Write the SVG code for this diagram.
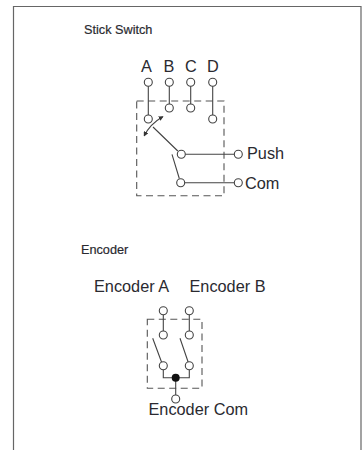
<svg xmlns="http://www.w3.org/2000/svg" width="363" height="450" viewBox="0 0 363 450">
<style>
text{font-family:"Liberation Sans",Arial,sans-serif;fill:#2a2a30}
.l{font-size:16.300px}
.t{font-size:12.700px;stroke:#2a2a30;stroke-width:0.200}
.w{fill:none;stroke:#444;stroke-width:1.100}
.c{fill:#fff;stroke:#444;stroke-width:1.100}
.d{fill:none;stroke:#555;stroke-width:1.100;stroke-dasharray:7 4.500}
</style>
<defs>
<marker id="ah" markerUnits="userSpaceOnUse" markerWidth="5" markerHeight="5" refX="4" refY="2.500" orient="auto-start-reverse"><path d="M0 0L5 2.500L0 5Z" fill="#333"/></marker>
</defs>
<rect width="363" height="450" fill="#fff"/>
<path id="frame" d="M13.500 450V6.500H361V450" fill="none" stroke="#666" stroke-width="1.200"/>
<g id="connectors">
<rect class="d" x="136.700" y="101" width="87.300" height="94.700"/>
<path class="w" d="M148.300 86V115M169.300 86V104M190.700 86V104M212.700 86V115"/>
<path class="w" d="M177.800 151L153 127M179.300 178.500L172 154.300"/>
<path class="w" d="M185 154.300H234.600M184.500 182.700H234.600"/>
<path class="w" d="M144.300 135.700Q150 124 162.700 116.700" marker-start="url(#ah)" marker-end="url(#ah)"/>
<rect class="d" x="147.300" y="319.300" width="54.700" height="69"/>
<path class="w" d="M163.300 314.400V331.300M189.300 314.400V331.300"/>
<path class="w" d="M152.700 338.300L161.700 362.500M180 338.300L188.300 362.500"/>
<path class="w" d="M163.300 369.400V377.700H189.300V369.400M175.700 377.700V395.300"/>
</g>
<g id="stick-switch">
<text class="t" x="84" y="33.500">Stick Switch</text>
<text class="l" x="141" y="72">A</text>
<text class="l" x="163.500" y="72">B</text>
<text class="l" x="185" y="72">C</text>
<text class="l" x="207" y="72">D</text>
<text class="l" x="247" y="158.500">Push</text>
<text class="l" x="245" y="188.500">Com</text>
</g>
<g id="stick-terminals">
<circle class="c" cx="148.300" cy="82.300" r="4"/>
<circle class="c" cx="169.300" cy="82.300" r="4"/>
<circle class="c" cx="190.700" cy="82.300" r="4"/>
<circle class="c" cx="212.700" cy="82.300" r="4"/>
<circle class="c" cx="148.300" cy="119" r="4"/>
<circle class="c" cx="169.300" cy="108" r="4"/>
<circle class="c" cx="190.700" cy="108" r="4"/>
<circle class="c" cx="212.700" cy="119" r="4"/>
<circle class="c" cx="181.300" cy="154.300" r="4"/>
<circle class="c" cx="238.300" cy="154.300" r="4"/>
<circle class="c" cx="180.700" cy="182.700" r="4"/>
<circle class="c" cx="238.300" cy="182.700" r="4"/>
</g>
<g id="encoder">
<text class="t" x="81" y="253.500">Encoder</text>
<text class="l" x="94" y="292">Encoder A</text>
<text class="l" x="189.500" y="292">Encoder B</text>
<text class="l" x="148.500" y="414.500">Encoder Com</text>
</g>
<g id="encoder-terminals">
<circle class="c" cx="163.300" cy="310.700" r="4"/>
<circle class="c" cx="189.300" cy="310.700" r="4"/>
<circle class="c" cx="163.300" cy="335" r="4"/>
<circle class="c" cx="189.300" cy="335" r="4"/>
<circle class="c" cx="163.300" cy="365.700" r="4"/>
<circle class="c" cx="189.300" cy="365.700" r="4"/>
<circle cx="175.700" cy="377.700" r="4" fill="#111"/>
<circle class="c" cx="175.700" cy="399" r="4"/>
</g>
</svg>
